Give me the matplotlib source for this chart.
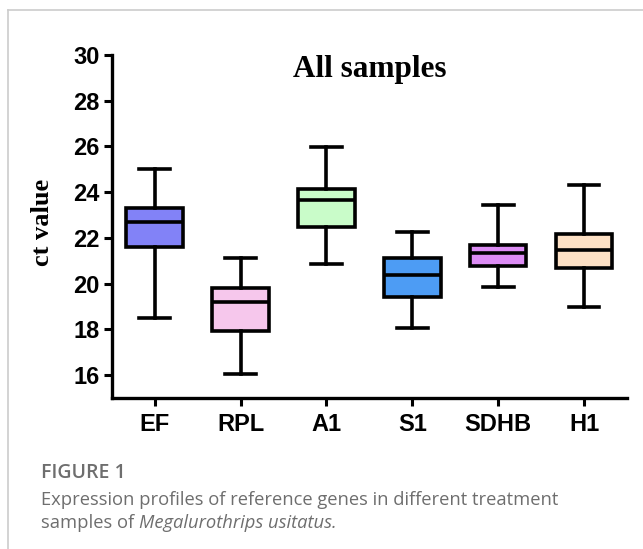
import matplotlib
matplotlib.use('Agg')
import matplotlib.pyplot as plt
from matplotlib.lines import Line2D

genes = ['EF', 'RPL', 'A1', 'S1', 'SDHB', 'H1']
whisker_low = [18.5, 16.07, 20.85, 18.08, 19.85, 18.99]
q1 = [21.61, 17.92, 22.46, 19.42, 20.77, 20.67]
median = [22.68, 19.2, 23.64, 20.37, 21.36, 21.45]
q3 = [23.32, 19.79, 24.14, 21.13, 21.71, 22.17]
whisker_high = [25.02, 21.13, 25.98, 22.27, 23.44, 24.31]
colors = ['#8282f7', '#f6c7ec', '#c9fcc9', '#4d9cf4', '#dc8cf4', '#fde0c4']

fig = plt.figure(figsize=(6.43, 5.49), dpi=100)
ax = fig.add_axes([0.174, 0.275, 0.801, 0.625])

stats = []
for i, g in enumerate(genes):
    stats.append({'label': g, 'whislo': whisker_low[i], 'q1': q1[i], 'med': median[i],
                  'q3': q3[i], 'whishi': whisker_high[i], 'fliers': []})

lw = 2.6
bp = ax.bxp(stats, widths=0.66, patch_artist=True, showfliers=False,
            boxprops=dict(linewidth=lw, edgecolor='black'),
            medianprops=dict(color='black', linewidth=lw),
            whiskerprops=dict(color='black', linewidth=lw),
            capprops=dict(color='black', linewidth=lw), capwidths=0.36)
for patch, c in zip(bp['boxes'], colors):
    patch.set_facecolor(c)

ax.set_xlim(0.5, 6.5)
ax.set_ylim(15, 30)
ax.set_yticks(range(16, 31, 2))
for s in ['top', 'right']:
    ax.spines[s].set_visible(False)
for s in ['left', 'bottom']:
    ax.spines[s].set_linewidth(2.4)
ax.tick_params(width=2.2, length=6, direction='out')
ax.tick_params(axis='y', pad=3)
ax.tick_params(axis='x', pad=5)
for lab in ax.get_yticklabels():
    lab.set_fontfamily('Liberation Sans')
    lab.set_fontweight('bold')
    lab.set_fontsize(17)
for lab in ax.get_xticklabels():
    lab.set_fontfamily('Liberation Sans')
    lab.set_fontweight('bold')
    lab.set_fontsize(17)
ax.set_ylabel('ct value', fontfamily='Liberation Serif', fontweight='bold', fontsize=19)
ax.yaxis.set_label_coords(-0.112, 0.513)
ax.text(0.5, 0.936, 'All samples', transform=ax.transAxes, ha='center', va='baseline',
        fontfamily='Liberation Serif', fontweight='bold', fontsize=22.5)

# card frame
fig.add_artist(Line2D([8 / 643, 1], [1 - 10 / 549, 1 - 10 / 549], color='#cccccc', lw=1.2))
fig.add_artist(Line2D([8 / 643, 8 / 643], [0, 1 - 10 / 549], color='#cccccc', lw=1.2))

cap_color = '#6e6e6e'
x0 = 41 / 643
fig.text(x0, 1 - 473 / 549, 'FIGURE 1', fontfamily='Open Sans', fontsize=14,
         color=cap_color, va='center', fontweight='semibold')
fig.text(x0, 1 - 500 / 549, 'Expression profiles of reference genes in different treatment',
         fontfamily='Open Sans', fontsize=13.2, color=cap_color, va='center')
t = fig.text(x0, 1 - 523 / 549, 'samples of ', fontfamily='Open Sans', fontsize=13.2,
             color=cap_color, va='center')
fig.canvas.draw()
bb = t.get_window_extent()
fig.text(bb.x1 / fig.bbox.width, 1 - 523 / 549, 'Megalurothrips usitatus.', fontfamily='Open Sans',
         fontsize=13.2, color=cap_color, va='center', style='italic')

fig.savefig('out.png', dpi=100)
